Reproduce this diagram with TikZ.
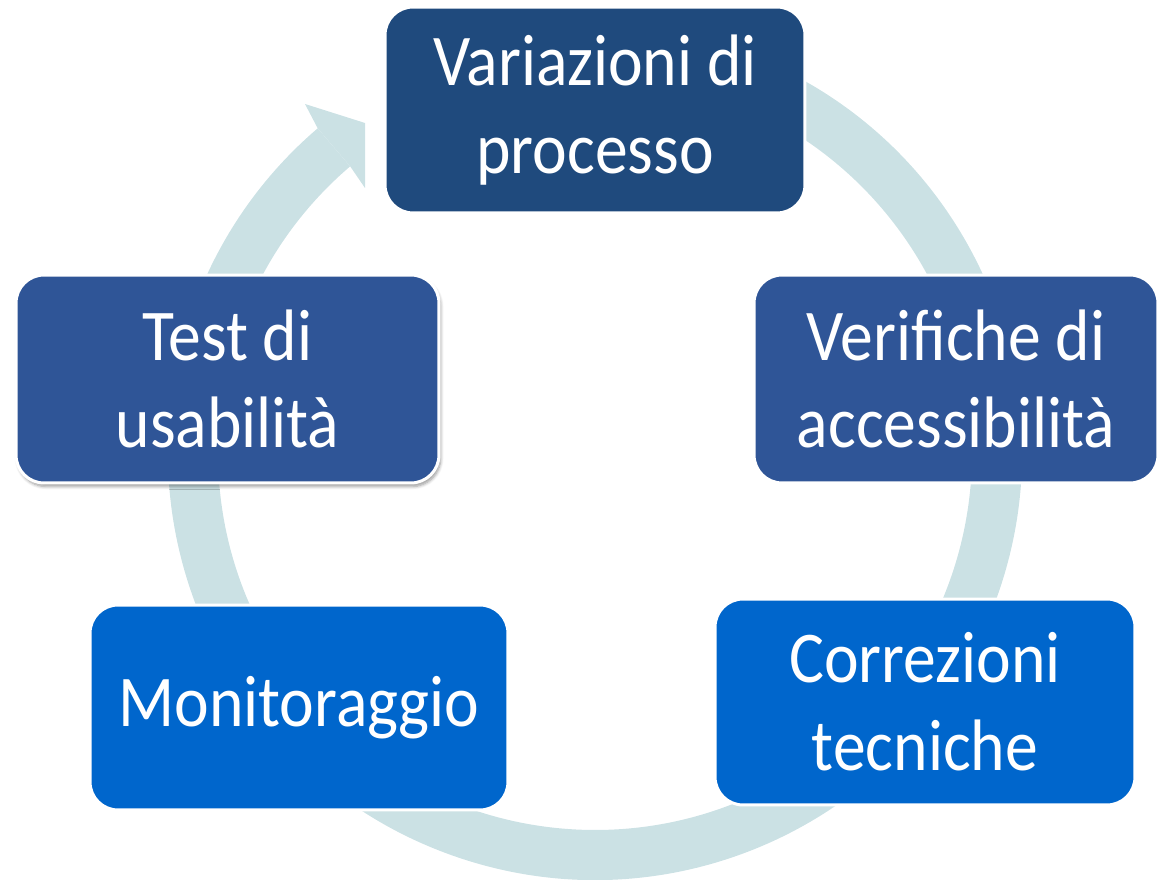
\documentclass[tikz,border=0pt]{standalone}
\usepackage{fontspec}
\newfontfamily\stagefont[FakeStretch=0.9]{Carlito}
\usetikzlibrary{shadows.blur}
\definecolor{ringc}{HTML}{CBE1E4}
\definecolor{darkc}{HTML}{1F4A7D}
\definecolor{midc}{HTML}{2F5597}
\definecolor{brightc}{HTML}{0066CC}
\begin{document}
\begin{tikzpicture}[x=0.02cm, y=0.02cm,
  main/.style = {draw=white, line width=0.06cm, rounded corners=0.56cm, text=white, align=center,
    inner sep=0pt, minimum width=8.4cm, minimum height=4.12cm,
    font=\stagefont\fontsize{41.5}{50}\selectfont}]
\useasboundingbox (0,0) rectangle (1158,879);
%Ring with arrow head
\begin{scope}[shift={(595,426)}]
  \fill[ringc] (70:427) arc (70:-229.5:427) -- (-229.5:377) arc (-229.5:70:377) -- cycle;
  \fill[ringc] (130.5:427) -- (-290,349) -- (-230,330) -- (-230,265) -- (130.5:377) -- cycle;
\end{scope}
%Stages of the cycle
\node[main, fill=darkc] (1) at (595,769) {Variazioni di\\processo};
\node[main, fill=midc, minimum width=8.08cm, minimum height=4.16cm] (2) at (956,500) {Verifiche di\\accessibilità};
\node[main, fill=brightc] (3) at (925,177) {Correzioni\\tecniche};
\node[main, fill=brightc, minimum width=8.36cm, minimum height=4.1cm] (4) at (299,171.5) {Monitoraggio};
\node[main, fill=midc, minimum width=8.46cm, minimum height=4.16cm,
  blur shadow={shadow xshift=1pt, shadow yshift=-2pt, shadow blur steps=6, shadow opacity=40}] (5) at (227.5,500) {Test di\\usabilità};
\end{tikzpicture}
\end{document}
